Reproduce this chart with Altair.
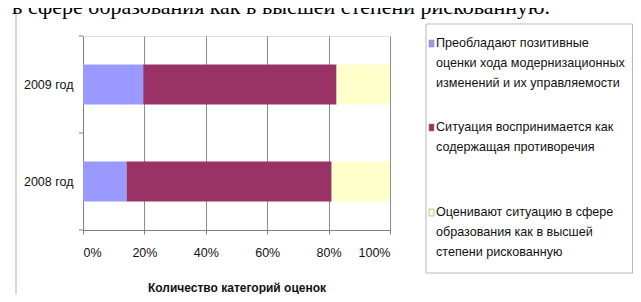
import altair as alt
import pandas as pd

# ---- data ----
years = ["2009 год", "2008 год"]
categories = [
    "Преобладают позитивные оценки хода модернизационных изменений и их управляемости",
    "Ситуация воспринимается как содержащая противоречия",
    "Оценивают ситуацию в сфере образования как в высшей степени рискованную",
]
legend_lines = [
    ["Преобладают позитивные", "оценки хода модернизационных", "изменений и их управляемости"],
    ["Ситуация воспринимается как", "содержащая противоречия"],
    ["Оценивают ситуацию в сфере", "образования как в высшей", "степени рискованную"],
]
share_positive = [19.6, 14.2]
share_contradictory = [63.0, 66.8]
share_risky = [17.4, 19.0]
colors = ["#9999FF", "#993366", "#FFFFCC"]
x_ticks = [0, 0.2, 0.4, 0.6, 0.8, 1.0]
x_title = "Количество категорий оценок"
page_text = "в сфере образования как в высшей степени рискованную."

FONT = "Liberation Sans, Arial, sans-serif"

rows = []
for yi, yr in enumerate(years):
    for ci, (cat, vals) in enumerate(zip(categories, [share_positive, share_contradictory, share_risky])):
        rows.append({"year": yr, "category": cat, "value": vals[yi], "idx": ci})
df = pd.DataFrame(rows)

W, H = 307, 194

color_scale = alt.Scale(domain=categories, range=colors)

bars = alt.Chart(df).mark_bar(height={"band": 0.41}).encode(
    x=alt.X(
        "value:Q", stack="normalize",
        scale=alt.Scale(domain=[0, 1], nice=False),
        axis=alt.Axis(
            values=x_ticks, format=".0%", grid=True, gridColor="#8C8C8C", gridWidth=1,
            tickSize=4, tickColor="#808080", domainColor="#808080",
            labelFont=FONT, labelFontSize=12.5, labelColor="#111", labelPadding=12,
            title=x_title, titleFont=FONT, titleFontSize=12, titleFontWeight="bold",
            titleColor="#111", titleBaseline="middle", titleY=57,
        ),
    ),
    y=alt.Y(
        "year:N", sort=years,
        scale=alt.Scale(paddingInner=0, paddingOuter=0),
        axis=alt.Axis(
            title=None, ticks=False, domainColor="#808080", labelPadding=10,
            labelFont=FONT, labelFontSize=12.5, labelColor="#111",
        ),
    ),
    color=alt.Color("category:N", scale=color_scale, legend=None),
    order=alt.Order("idx:Q"),
)

yticks = alt.Chart(pd.DataFrame({"year": years})).mark_rule(color="#808080").encode(
    y=alt.Y("year:N", sort=years, bandPosition=0),
    x=alt.value(-4), x2=alt.value(0),
)
ytick_end = alt.Chart(pd.DataFrame({"a": [0]})).mark_rule(color="#808080").encode(
    y=alt.value("height"), x=alt.value(-4), x2=alt.value(0),
)

# frame line at left of chart object
frame_line = alt.Chart(pd.DataFrame({"a": [0]})).mark_rule(color="#D8D8D8", strokeWidth=2).encode(
    x=alt.value(-67), y=alt.value(-26), y2=alt.value(260),
)

# legend box
leg_box = alt.Chart(pd.DataFrame({"a": [0]})).mark_rect(fill="white", stroke="#B8B8B8", strokeWidth=1).encode(
    x=alt.value(343), x2=alt.value(549.5), y=alt.value(-12), y2=alt.value(237),
)

item_tops = [7, 91, 176]
line_h = 20
leg_rows = []
for ci, (cat, lines) in enumerate(zip(categories, legend_lines)):
    leg_rows.append({"category": cat, "lines": lines, "ly": item_tops[ci],
                     "s1": item_tops[ci] - 3, "s2": item_tops[ci] + 4})
leg_df = pd.DataFrame(leg_rows)

leg_sym = alt.Chart(leg_df).mark_rect(stroke="#808080", strokeWidth=0.5).encode(
    x=alt.value(346), x2=alt.value(351),
    y=alt.Y("s1:Q", scale=None), y2="s2:Q",
    color=alt.Color("category:N", scale=color_scale, legend=None),
)
leg_text = alt.Chart(leg_df).mark_text(
    align="left", baseline="middle", font=FONT, fontSize=12.6, lineHeight=line_h, color="#111"
).encode(
    x=alt.value(353), y=alt.Y("ly:Q", scale=None), text="lines",
)

top_text = alt.Chart(pd.DataFrame({"t": [page_text]})).mark_text(
    align="left", baseline="alphabetic", font="Liberation Serif, Times New Roman, serif",
    fontSize=22, color="#000",
).encode(x=alt.value(-71), y=alt.value(-22), text="t:N")

chart = alt.layer(
    frame_line, leg_box, leg_sym, leg_text, bars, yticks, ytick_end, top_text
).properties(
    width=W, height=H,
    padding={"left": 75, "top": 28, "right": 243, "bottom": 64},
    autosize=alt.AutoSizeParams(type="none"),
).configure_view(
    fill="#CCCCCC", stroke="#9A9A9A", strokeWidth=1
).configure(background="white")

chart.save("out.html", embed_options={"renderer": "svg", "actions": False})
